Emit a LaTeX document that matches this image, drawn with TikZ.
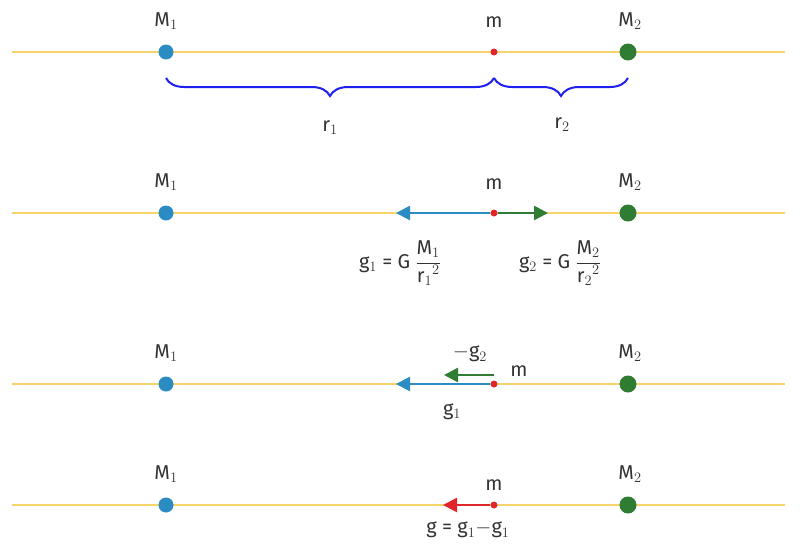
\documentclass[tikz,border=0pt]{standalone}
\usepackage{fontspec}
\setmainfont{Fira Sans}
\usetikzlibrary{decorations.pathreplacing,arrows.meta}
\definecolor{lineY}{HTML}{F7D36B}
\definecolor{dotB}{HTML}{2B8CC4}
\definecolor{dotG}{HTML}{2E7D32}
\definecolor{dotR}{HTML}{E0262B}
\definecolor{brc}{HTML}{2020F0}
\definecolor{txt}{HTML}{333333}
\tikzset{
  axis/.style={lineY, line width=2pt},
  mone/.style={circle, fill=dotB, inner sep=0pt, minimum size=15pt},
  mtwo/.style={circle, fill=dotG, inner sep=0pt, minimum size=17pt},
  mm/.style={circle, fill=dotR, inner sep=0pt, minimum size=7pt},
  lab/.style={text=txt, font=\fontsize{20}{22}\selectfont},
  vec/.style={line width=2.6pt, -{Triangle[length=14pt,width=14pt]}},
  brace/.style={brc, line width=2pt, decorate, decoration={brace, mirror, amplitude=18pt}}
}
\begin{document}
\begin{tikzpicture}[x=1pt,y=-1pt]
\useasboundingbox (0,0) rectangle (800,549);
\foreach \r/\y in {a/52,b/213,c/384,d/505}{
  \coordinate (L\r) at (12,\y);
  \coordinate (R\r) at (785,\y);
  \draw[axis] (L\r) -- (R\r);
  \node[mone] (A\r) at (166,\y) {};
  \node[mtwo] (B\r) at (628,\y) {};
  \node[mm] (m\r) at (494,\y) {};
  \node[lab] at (166,\y-31) {M$_1$};
  \node[lab] at (630,\y-31) {M$_2$};
}
\node[lab] at (494,22) {m};
\node[lab] at (494,184) {m};
\node[lab] at (519,371) {m};
\node[lab] at (494,485) {m};
% row 1 braces
\coordinate (b1s) at (166,78);
\coordinate (b1e) at (494,78);
\coordinate (b2e) at (628,78);
\draw[brace] (b1s) -- (b1e);
\draw[brace] (b1e) -- (b2e);
\node[lab] at (330,128) {r$_1$};
\node[lab] at (562,125) {r$_2$};
% row 2
\coordinate (g1b) at (396,213);
\coordinate (g2b) at (548,213);
\draw[vec, dotB] (mb) -- (g1b);
\draw[vec, dotG] (mb) -- (g2b);
\node[lab] at (400,263) {g$_1$ = G $\displaystyle\frac{\mbox{M$_1$}}{\mbox{r$_1{}^2$}}$};
\node[lab] at (560,263) {g$_2$ = G $\displaystyle\frac{\mbox{M$_2$}}{\mbox{r$_2{}^2$}}$};
% row 3
\coordinate (g1c) at (396,384);
\coordinate (mc2) at (494,375);
\coordinate (g2c) at (444,375);
\draw[vec, dotB] (mc) -- (g1c);
\draw[vec, dotG] (mc2) -- (g2c);
\node[lab] at (470,354) {$-$g$_2$};
\node[lab] at (452,412) {g$_1$};
% row 4
\coordinate (gd) at (443,505);
\draw[vec, dotR] (md) -- (gd);
\node[lab] at (468,530) {g = g$_1$$-$g$_1$};
\end{tikzpicture}
\end{document}
